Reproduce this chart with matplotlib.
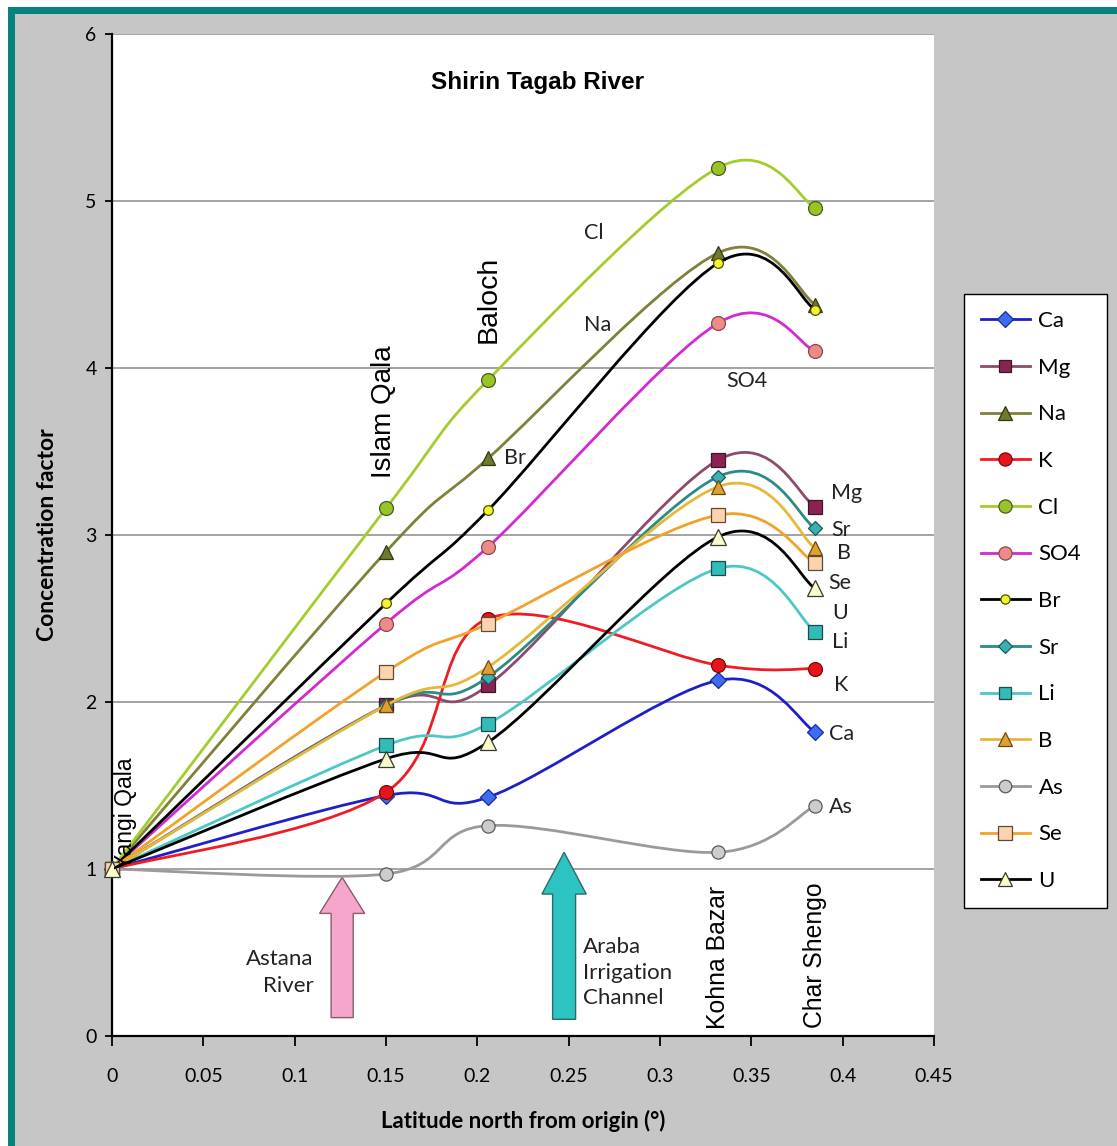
import numpy as np
import matplotlib
matplotlib.use("Agg")
import matplotlib.pyplot as plt
from matplotlib.path import Path
from matplotlib.patches import PathPatch, FancyArrow, Rectangle
from matplotlib.lines import Line2D

# ---------------- data ----------------
latitude = [0, 0.15, 0.206, 0.332, 0.385]
Ca = [1, 1.44, 1.43, 2.13, 1.82]
Mg = [1, 1.98, 2.10, 3.45, 3.17]
Na = [1, 2.90, 3.46, 4.69, 4.38]
K = [1, 1.46, 2.50, 2.22, 2.20]
Cl = [1, 3.16, 3.93, 5.20, 4.96]
SO4 = [1, 2.47, 2.93, 4.27, 4.10]
Br = [1, 2.59, 3.15, 4.63, 4.35]
Sr = [1, 1.98, 2.15, 3.35, 3.04]
Li = [1, 1.74, 1.87, 2.80, 2.42]
B = [1, 1.98, 2.21, 3.29, 2.92]
As = [1, 0.97, 1.26, 1.10, 1.38]
Se = [1, 2.18, 2.47, 3.12, 2.83]
U = [1, 1.66, 1.76, 2.99, 2.68]

series_names = ["Ca", "Mg", "Na", "K", "Cl", "SO4", "Br", "Sr", "Li", "B", "As", "Se", "U"]
series_values = [Ca, Mg, Na, K, Cl, SO4, Br, Sr, Li, B, As, Se, U]

x_ticks = [0, 0.05, 0.1, 0.15, 0.2, 0.25, 0.3, 0.35, 0.4, 0.45]
x_tick_labels = ["0", "0.05", "0.1", "0.15", "0.2", "0.25", "0.3", "0.35", "0.4", "0.45"]
y_ticks = [0, 1, 2, 3, 4, 5, 6]

sites = ["Yangi Qala", "Islam Qala", "Baloch", "Kohna Bazar", "Char Shengo"]

# ---------------- styles ----------------
# name: (line colour, marker, marker face, marker edge, marker size)
styles = {
    "Ca":  ("#1f1fc8", "D", "#3d6cf0", "#1a2a9a", 8.5),
    "Mg":  ("#8e4a6c", "s", "#8b2252", "#3a1a2a", 9.5),
    "Na":  ("#80803a", "^", "#6f7a2c", "#2f3a10", 10.5),
    "K":   ("#ee1c24", "o", "#e8141c", "#7a0a0a", 10),
    "Cl":  ("#a4cc2c", "o", "#98c428", "#4a5a20", 10),
    "SO4": ("#d22ad2", "o", "#ee8a88", "#8a4a4a", 10),
    "Br":  ("#000000", "o", "#f4f42a", "#505010", 7),
    "Sr":  ("#2a8c84", "D", "#3ab0b0", "#1a5a5a", 7),
    "Li":  ("#4cc8c4", "s", "#33bbb8", "#1a4a4a", 9.5),
    "B":   ("#e6b83a", "^", "#e0a030", "#6a4a10", 10),
    "As":  ("#9a9a9a", "o", "#cccccc", "#5a5a5a", 9.5),
    "Se":  ("#f2a22a", "s", "#fcd3ac", "#5a4a3a", 10),
    "U":   ("#000000", "^", "#fbfbcc", "#3a3a2a", 11),
}

W, H = 1117, 1146
fig = plt.figure(figsize=(W / 100, H / 100), dpi=100)
fig.patch.set_facecolor("#c6c6c6")

# frame decorations (cropped screenshot border)
fig.add_artist(Rectangle((0, 1 - 7 / H), 1, 7 / H, transform=fig.transFigure,
                         facecolor="white", edgecolor="none", zorder=0))
fig.add_artist(Rectangle((0, 0), 8 / W, 1, transform=fig.transFigure,
                         facecolor="white", edgecolor="none", zorder=0))
fig.add_artist(Rectangle((8 / W, 1 - 14 / H), 1, 7 / H, transform=fig.transFigure,
                         facecolor="#068380", edgecolor="none", zorder=1))
fig.add_artist(Rectangle((8 / W, 0), 7 / W, 1 - 7 / H, transform=fig.transFigure,
                         facecolor="#068380", edgecolor="none", zorder=1))

ax = fig.add_axes([112 / W, 1 - 1036 / H, (934 - 112) / W, (1036 - 34) / H])
ax.set_facecolor("white")
ax.set_xlim(0, 0.45)
ax.set_ylim(0, 6)

calibri = ["Lato", "DejaVu Sans"]
arial = ["Liberation Sans", "DejaVu Sans"]

ax.set_xticks(x_ticks)
ax.set_xticklabels(x_tick_labels, family=calibri, fontsize=14)
ax.set_yticks(y_ticks)
ax.set_yticklabels([str(v) for v in y_ticks], family=calibri, fontsize=14)
ax.tick_params(axis="x", direction="out", length=7, width=1.3, pad=16, colors="black")
ax.tick_params(axis="y", direction="out", length=5, width=1.3, pad=6, colors="black")

for s in ["top", "right"]:
    ax.spines[s].set_visible(False)
for s in ["left", "bottom"]:
    ax.spines[s].set_linewidth(1.6)
    ax.spines[s].set_color("black")

for gy in y_ticks[1:]:
    ax.axhline(gy, color="#8a8a8a", lw=1.1, zorder=1)

ax.set_xlabel("Latitude north from origin (°)", family=calibri, fontsize=16,
              fontweight="bold", labelpad=18)
ax.set_ylabel("Concentration factor", family=calibri, fontsize=16.5,
              fontweight="bold", labelpad=20)


def smooth_path(xs, ys):
    pts = np.column_stack([xs, ys]).astype(float)
    n = len(pts)
    verts = [pts[0]]
    codes = [Path.MOVETO]
    for i in range(n - 1):
        p0 = pts[i - 1] if i > 0 else pts[i]
        p1 = pts[i]
        p2 = pts[i + 1]
        p3 = pts[i + 2] if i + 2 < n else pts[i + 1]
        c1 = p1 + (p2 - p0) / 6.0
        c2 = p2 - (p3 - p1) / 6.0
        verts += [c1, c2, p2]
        codes += [Path.CURVE4] * 3
    return Path(verts, codes)


handles = []
z = 3
for name, vals in zip(series_names, series_values):
    lc, mk, mfc, mec, ms = styles[name]
    patch = PathPatch(smooth_path(latitude, vals), facecolor="none", edgecolor=lc,
                      lw=2.0, zorder=z, capstyle="round", joinstyle="round")
    ax.add_patch(patch)
    ax.plot(latitude, vals, linestyle="none", marker=mk, markerfacecolor=mfc,
            markeredgecolor=mec, markeredgewidth=0.9, markersize=ms, zorder=z + 0.5,
            clip_on=False)
    handles.append(Line2D([], [], color=lc, lw=2.0, marker=mk, markerfacecolor=mfc,
                          markeredgecolor=mec, markeredgewidth=0.9,
                          markersize=ms * 0.95, label=name))
    z += 1

# title
ax.text(0.233, 5.71, "Shirin Tagab River", family=arial, fontsize=17.5,
        fontweight="bold", ha="center", va="center")

# site labels (rotated)
site_pos = [(0.0075, 1.0), (0.149, 3.34), (0.206, 4.15), (0.3315, 0.04), (0.385, 0.05)]
site_size = [16.5, 20, 20.5, 17.8, 17.8]
for name, (sx, sy), fs in zip(sites, site_pos, site_size):
    ax.text(sx, sy, name, family=arial, fontsize=fs, rotation=90,
            ha="center", va="bottom", zorder=20)

# series labels
label_pos = {
    "Cl": (0.2635, 4.81, "center"), "Na": (0.266, 4.26, "center"),
    "Br": (0.2145, 3.46, "left"), "SO4": (0.3475, 3.92, "center"),
    "Mg": (0.3935, 3.25, "left"), "Sr": (0.3935, 3.03, "left"),
    "B": (0.397, 2.89, "left"), "Se": (0.392, 2.71, "left"),
    "U": (0.3945, 2.53, "left"), "Li": (0.394, 2.36, "left"),
    "K": (0.395, 2.10, "left"), "Ca": (0.3925, 1.81, "left"),
    "As": (0.3925, 1.37, "left"),
}
for nm, (lx, ly, ha) in label_pos.items():
    ax.text(lx, ly, nm, family=calibri, fontsize=15.5, ha=ha, va="center",
            color="#222222", zorder=20)

# tributary arrows
ax.add_patch(FancyArrow(0.126, 0.11, 0, 0.84, width=0.0121, head_width=0.0247,
                        head_length=0.216, length_includes_head=True,
                        facecolor="#f6a6cb", edgecolor="#8a5a70", lw=1.0, zorder=2))
ax.add_patch(FancyArrow(0.2475, 0.10, 0, 1.00, width=0.0126, head_width=0.0242,
                        head_length=0.25, length_includes_head=True,
                        facecolor="#2cc4c2", edgecolor="#2a6a6a", lw=1.0, zorder=2))
ax.text(0.1105, 0.38, "Astana\nRiver", family=calibri, fontsize=16, ha="right",
        va="center", multialignment="right", linespacing=1.45, color="#222222")
ax.text(0.258, 0.38, "Araba\nIrrigation\nChannel", family=calibri, fontsize=16,
        ha="left", va="center", multialignment="left", linespacing=1.35, color="#222222")

# legend
leg = fig.legend(handles=handles, loc="center",
                 bbox_to_anchor=(964 / W, 1 - 905 / H, 143 / W, 608 / H),
                 bbox_transform=fig.transFigure, mode="expand",
                 prop={"family": calibri, "size": 16}, frameon=True, fancybox=False,
                 edgecolor="black", facecolor="white", framealpha=1,
                 handlelength=2.2, labelspacing=1.2, borderpad=0.75,
                 handletextpad=0.4, borderaxespad=0)
leg.get_frame().set_linewidth(1.0)

fig.savefig("out.png", dpi=100, facecolor=fig.get_facecolor())
